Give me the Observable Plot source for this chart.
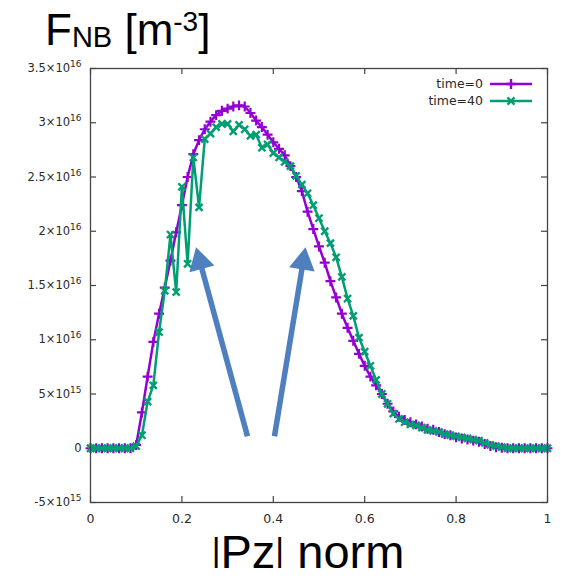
<!DOCTYPE html>
<html><head><meta charset="utf-8">
<script src="https://cdn.jsdelivr.net/npm/d3@7"></script>
<script src="https://cdn.jsdelivr.net/npm/@observablehq/plot@0.6"></script>
<style>
body{margin:0;background:#fff;}
#wrap{position:relative;width:567px;height:579px;overflow:hidden;background:#fff;}
#plot{position:absolute;left:0;top:55px;}
#overlay{position:absolute;left:0;top:0;pointer-events:none;}
</style></head><body>
<div id="wrap"><div id="plot"></div><svg id="overlay" width="567" height="579"></svg></div>
<script>
// |Pz| norm sample positions
const pz = [0,0.0125,0.025,0.0375,0.05,0.0625,0.075,0.0875,0.1,0.1125,0.125,0.1375,0.15,0.1625,0.175,0.1875,
0.2,0.2125,0.225,0.2375,0.25,0.2625,0.275,0.2875,0.3,0.3125,0.325,0.3375,0.35,0.3625,0.375,0.3875,
0.4,0.4125,0.425,0.4375,0.45,0.4625,0.475,0.4875,0.5,0.5125,0.525,0.5375,0.55,0.5625,0.575,0.5875,
0.6,0.6125,0.625,0.6375,0.65,0.6625,0.675,0.6875,0.7,0.7125,0.725,0.7375,0.75,0.7625,0.775,0.7875,
0.8,0.8125,0.825,0.8375,0.85,0.8625,0.875,0.8875,0.9,0.9125,0.925,0.9375,0.95,0.9625,0.975,0.9875,1];
// F_NB in units of 1e16 m^-3
const time0 = [0,0,0,0,0,0,0,0,0.03,0.33,0.66,0.98,1.24,1.48,1.73,1.99,
2.24,2.50,2.71,2.84,2.94,3.01,3.07,3.11,3.13,3.15,3.16,3.15,3.09,3.02,2.96,2.89,
2.82,2.76,2.70,2.60,2.50,2.37,2.18,2.02,1.86,1.71,1.54,1.39,1.24,1.11,0.99,0.87,
0.76,0.66,0.58,0.50,0.41,0.34,0.29,0.26,0.24,0.22,0.20,0.18,0.17,0.15,0.13,0.12,
0.10,0.09,0.08,0.07,0.06,0.04,0.02,0.01,0.005,0,0,0,0,0,0,0,0];
const time40 = [0,0,0,0,0,0,0,0,0.02,0.12,0.43,0.58,1.07,1.45,1.97,1.44,
2.41,1.70,2.68,2.22,2.85,2.90,2.96,2.99,2.99,2.92,2.98,2.94,2.88,2.89,2.77,2.80,
2.72,2.68,2.64,2.60,2.51,2.43,2.35,2.24,2.12,2.00,1.89,1.76,1.58,1.38,1.22,1.02,
0.89,0.76,0.63,0.50,0.41,0.32,0.27,0.24,0.22,0.21,0.19,0.17,0.16,0.15,0.13,0.12,
0.11,0.10,0.09,0.08,0.07,0.05,0.03,0.02,0.01,0,0,0,0,0,0,0,0];
const seriesNames = ["time=0","time=40"];
const seriesColors = ["#9400d3","#009e73"];
const seriesSymbols = ["plus","times"];
const yTickValues = [-0.5,0,0.5,1,1.5,2,2.5,3,3.5];
const yTickLabels = ["-5×10^15","0","5×10^15","1×10^16","1.5×10^16","2×10^16","2.5×10^16","3×10^16","3.5×10^16"];
const xTickValues = [0,0.2,0.4,0.6,0.8,1];
const xTickLabels = ["0","0.2","0.4","0.6","0.8","1"];
// annotation arrows (data units: |Pz| norm, 1e16 m^-3)
const arrowTailX = [0.3435,0.4026];
const arrowTailY = [0.11,0.11];
const arrowTipX = [0.2309,0.4705];
const arrowTipY = [1.853,1.853];
const arrowColor = "#4e7fbf";

const UNIT = 1e16;
const W = 567, H = 480, ML = 90, MR = 20, MT = 13, MB = 33;
const frameW = W - ML - MR, frameH = H - MT - MB;
const axisColor = "#444";
const tickFont = "'DejaVu Sans', sans-serif";

const rows0 = pz.map((x,i)=>({x, y: time0[i]*UNIT}));
const rows40 = pz.map((x,i)=>({x, y: time40[i]*UNIT}));
const yTicks = yTickValues.map(v=>v*UNIT);
const yLabelMap = new Map(yTicks.map((v,i)=>[v,yTickLabels[i]]));
const xLabelMap = new Map(xTickValues.map((v,i)=>[v,xTickLabels[i]]));

const xs = d3.scaleLinear([0,1],[ML, W-MR]);
const ys = d3.scaleLinear([-0.5*UNIT,3.5*UNIT],[H-MB, MT]);

const arrowMarks = [];
arrowTailX.forEach((_,i)=>{
  const a = {x1: arrowTailX[i], y1: arrowTailY[i]*UNIT, x2: arrowTipX[i], y2: arrowTipY[i]*UNIT};
  const px = xs(a.x2)-xs(a.x1), py = ys(a.y2)-ys(a.y1);
  const len = Math.hypot(px,py), ux = px/len, uy = py/len;
  const ang = Math.atan2(px, -py)*180/Math.PI;
  const size = 290, tipDist = 2*Math.sqrt(size/(3*Math.sqrt(3)));
  arrowMarks.push(Plot.arrow([a], {x1:"x1",y1:"y1",x2:"x2",y2:"y2",stroke:arrowColor,strokeWidth:5.5,headLength:0,insetEnd:tipDist+2,strokeLinecap:"butt"}));
  arrowMarks.push(Plot.dot([a], {x:"x2",y:"y2",symbol:"triangle",r:Math.sqrt(size/Math.PI),fill:arrowColor,stroke:"none",rotate:ang,dx:-tipDist*ux,dy:-tipDist*uy}));
});

const chart = Plot.plot({
  width: W, height: H, marginLeft: ML, marginRight: MR, marginTop: MT, marginBottom: MB,
  x: {domain: [0,1]},
  y: {domain: [-0.5*UNIT, 3.5*UNIT]},
  style: {fontFamily: tickFont, fontSize: "12px", color: "#2a2a2a", background: "white"},
  marks: [
    Plot.ruleY(yTicks, {stroke: axisColor, strokeWidth: 1.2, insetRight: frameW-6}),
    Plot.ruleY(yTicks, {stroke: axisColor, strokeWidth: 1.2, insetLeft: frameW-6}),
    Plot.ruleX(xTickValues, {stroke: axisColor, strokeWidth: 1.2, insetTop: frameH-6}),
    Plot.ruleX(xTickValues, {stroke: axisColor, strokeWidth: 1.2, insetBottom: frameH-6}),
    Plot.axisY(yTicks, {tickSize: 0, tickPadding: 0, dx: -9, tickFormat: d=>yLabelMap.get(d), label: null}),
    Plot.axisX(xTickValues, {tickSize: 0, tickPadding: 12, tickFormat: d=>xLabelMap.get(d), label: null}),
    Plot.line(rows0, {x:"x", y:"y", stroke: seriesColors[0], strokeWidth: 2.5}),
    Plot.dot(rows0, {x:"x", y:"y", symbol: seriesSymbols[0], stroke: seriesColors[0], r: 3.3, strokeWidth: 2.2}),
    Plot.line(rows40, {x:"x", y:"y", stroke: seriesColors[1], strokeWidth: 2.5}),
    Plot.dot(rows40, {x:"x", y:"y", symbol: seriesSymbols[1], stroke: seriesColors[1], r: 3.3, strokeWidth: 2.4}),
    ...arrowMarks,
    Plot.frame({stroke: axisColor, strokeWidth: 1.3})
  ]
});
document.getElementById("plot").appendChild(chart);

// enforce tick label fonts and render exponent part as raised text
d3.select(chart).selectAll("text").each(function(){
  const el = this;
  const t = el.textContent;
  const sel = d3.select(el);
  const anchor = el.parentNode && el.parentNode.getAttribute ? el.parentNode.getAttribute("text-anchor") : null;
  sel.style("font-family", tickFont).style("font-size", anchor === "end" ? "11.5px" : "12.5px");
  const m = /^(.*×10)\^(-?\d+)$/.exec(t);
  if (!m) return;
  sel.selectAll("*").remove();
  sel.text(null);
  sel.append("tspan").text(m[1]);
  sel.append("tspan").style("font-size","9px").attr("dy", -5).text(m[2]);
});

// overlay: title, x label, legend
const ov = d3.select("#overlay");
const title = ov.append("text").attr("x",45).attr("y",45)
  .attr("font-family","'Liberation Sans', Arial, sans-serif").attr("font-size",44).attr("fill","#000")
  .style("white-space","pre");
title.append("tspan").text("F");
title.append("tspan").attr("font-size",29).attr("dy",2).text("NB");
title.append("tspan").attr("font-size",44).attr("dy",-2).text(" [m");
title.append("tspan").attr("font-size",28).attr("dy",-14).text("-3");
title.append("tspan").attr("font-size",44).attr("dy",14).text("]");

const xl = ov.append("text").attr("x",308).attr("y",568).attr("text-anchor","middle")
  .attr("font-family","'Liberation Sans', Arial, sans-serif").attr("font-size",47).attr("fill","#000")
  .style("white-space","pre");
xl.append("tspan").attr("font-size",34).attr("dy",-7).text("|");
xl.append("tspan").attr("font-size",47).attr("dy",7).text("Pz");
xl.append("tspan").attr("font-size",34).attr("dy",-7).text("|");
xl.append("tspan").attr("font-size",47).attr("dy",7).text(" norm");

const legendY = [84,101];
const symFns = [d3.symbolPlus, d3.symbolTimes];
seriesNames.forEach((name,i)=>{
  const y = legendY[i];
  ov.append("text").attr("x",483).attr("y",y).attr("text-anchor","end").attr("dominant-baseline","middle")
    .style("font-family",tickFont).style("font-size","12.5px").attr("fill","#2a2a2a").text(name);
  ov.append("line").attr("x1",490).attr("x2",532).attr("y1",y).attr("y2",y)
    .attr("stroke",seriesColors[i]).attr("stroke-width",2.5);
  ov.append("path").attr("d",d3.symbol(symFns[i], Math.PI*3.3*3.3)())
    .attr("transform",`translate(511,${y})`).attr("fill","none").attr("stroke",seriesColors[i]).attr("stroke-width",2.4);
});
</script>
</body></html>
